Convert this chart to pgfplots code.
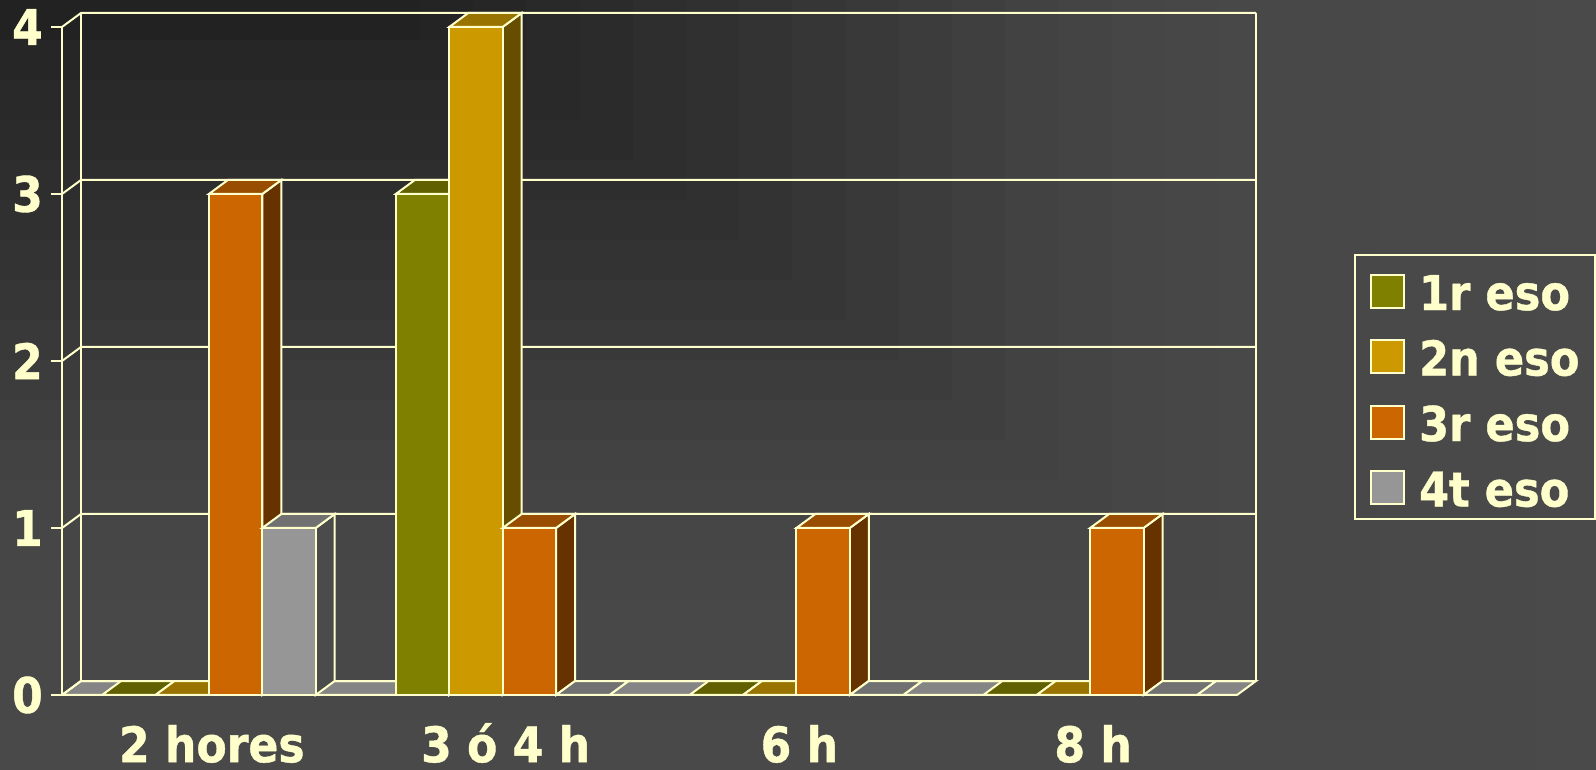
\documentclass[border=0pt]{standalone}
\usepackage{fontspec}
\setmainfont{DejaVu Sans Condensed}[BoldFeatures={FakeBold=0.8}]
\usepackage{pgfplots}
\pgfplotsset{compat=1.18}

\definecolor{cream}{HTML}{FFFFCC}
\definecolor{floorgrey}{HTML}{858585}
\definecolor{sOne}{HTML}{808000}
\definecolor{sOneTop}{HTML}{606000}
\definecolor{sOneSide}{HTML}{404000}
\definecolor{sTwo}{HTML}{CC9900}
\definecolor{sTwoTop}{HTML}{997300}
\definecolor{sTwoSide}{HTML}{664D00}
\definecolor{sThree}{HTML}{CC6600}
\definecolor{sThreeTop}{HTML}{994D00}
\definecolor{sThreeSide}{HTML}{663300}
\definecolor{sFour}{HTML}{969696}
\definecolor{sFourTop}{HTML}{717171}
\definecolor{sFourSide}{HTML}{4B4B4B}

% depth of the box, in axis units
\def\dx{0.0647}
\def\dy{0.0838}
\def\bw{0.1818}

% top and side of one bar: left edge, value, colour name
\newcommand\barfaces[3]{%
  \pgfmathsetmacro\xa{#1+\bw}%
  \pgfmathsetmacro\xb{#1+\bw+\dx}%
  \pgfmathsetmacro\xc{#1+\dx}%
  \pgfmathsetmacro\yt{#2+\dy}%
  \addplot[forget plot,draw=cream,fill=#3Side] coordinates {(\xa,0) (\xb,\dy) (\xb,\yt) (\xa,#2) (\xa,0)} --cycle;
  \addplot[forget plot,draw=cream,fill=#3Top] coordinates {(#1,#2) (\xa,#2) (\xb,\yt) (\xc,\yt) (#1,#2)} --cycle;
}
% one level of the walls: front tick, back corner, back right
\newcommand\wall[1]{%
  \pgfmathsetmacro\yt{#1+\dy}%
  \pgfmathsetmacro\xb{4+\dx}%
  \addplot[forget plot,cream] coordinates {(0,#1) (\dx,\yt) (\xb,\yt)};
}

\pgfplotsset{
  bar3d/.style={ybar,bar width=\bw,draw=cream,
    legend image code/.code={\draw[##1,line width=2pt] (0pt,-19pt) rectangle (33pt,14pt);}},
}

\begin{document}
\begin{tikzpicture}
% background, rectangular gradient out of the top left corner
\fill[black!71] (0pt,0pt) rectangle (1596pt,770pt);
\foreach \t/\g in {900/.290,840/.288,780/.286,720/.284,660/.282,600/.278,560/.273,520/.267,480/.260,440/.248,400/.235,360/.223,320/.212,280/.200,240/.188,200/.179,160/.170,120/.160,80/.150,40/.142}{
  \pgfmathsetmacro\bx{min(1596,420+1.33*\t)}
  \pgfmathsetmacro\by{max(0,770-\t)}
  \fill[color={rgb,1:red,\g;green,\g;blue,\g}] (0pt,770pt) rectangle (\bx pt,\by pt);
}
\fill[color={rgb,1:red,.133;green,.133;blue,.133}] (0pt,770pt) rectangle (420pt,730pt);
\begin{axis}[
  at={(62pt,75pt)},anchor=origin,
  x=293.75pt,y=167pt,
  xmin=0,xmax=4.0647,ymin=0,ymax=4.0838,
  clip=false,
  axis line style={draw=none},
  xtick pos=bottom,ytick pos=left,
  tick align=outside,
  every tick/.style={cream,line width=2pt},
  every minor tick/.style={cream,line width=2pt},
  major tick length=11pt,minor tick length=12pt,
  xtick={0.5,1.5,2.5,3.5},
  xticklabels={2 hores,3 ó 4 h,6 h,8 h},
  x tick style={draw=none},
  minor xtick={0,1,2,3,4},
  ytick={0,1,2,3,4},
  /pgf/number format/assume math mode=true,
  tick label style={cream,font=\fontsize{49}{49}\selectfont\bfseries,inner sep=0pt},
  xticklabel style={text height=36pt,text depth=0pt,anchor=north,yshift=-20pt,xshift=3pt},
  yticklabel style={anchor=east,xshift=-8pt},
  every axis plot/.append style={line width=2pt},
  legend style={at={(1.0821,0.6466)},anchor=north west,draw=cream,line width=2pt,
    fill=none,text=cream,font=\fontsize{48}{48}\selectfont\bfseries,
    inner xsep=15pt,inner ysep=12pt,row sep=22.5pt,column sep=14pt,
    nodes={text height=43pt,text depth=0pt,inner sep=0pt}},
  legend cell align=left,
]
% floor and walls
\addplot[forget plot,draw=cream,fill=floorgrey] coordinates {(0,0) (4,0) (4.0647,0.0838) (0.0647,0.0838) (0,0)} --cycle;
\wall{0}\wall{1}\wall{2}\wall{3}\wall{4}
\addplot[forget plot,cream] coordinates {(0,0) (0,4)};
\addplot[forget plot,cream] coordinates {(0.0647,0.0838) (0.0647,4.0838)};
\addplot[forget plot,cream] coordinates {(4.0647,0.0838) (4.0647,4.0838)};

% 1r eso
\barfaces{0.1364}{0}{sOne}\barfaces{1.1364}{3}{sOne}\barfaces{2.1364}{0}{sOne}\barfaces{3.1364}{0}{sOne}
\addplot[bar3d,bar shift=-0.2727,fill=sOne] coordinates {(0.5,0) (1.5,3) (2.5,0) (3.5,0)};
\addlegendentry{1r eso}
% 2n eso
\barfaces{0.3182}{0}{sTwo}\barfaces{1.3182}{4}{sTwo}\barfaces{2.3182}{0}{sTwo}\barfaces{3.3182}{0}{sTwo}
\addplot[bar3d,bar shift=-0.0909,fill=sTwo] coordinates {(0.5,0) (1.5,4) (2.5,0) (3.5,0)};
\addlegendentry{2n eso}
% 3r eso
\barfaces{0.5}{3}{sThree}\barfaces{1.5}{1}{sThree}\barfaces{2.5}{1}{sThree}\barfaces{3.5}{1}{sThree}
\addplot[bar3d,bar shift=0.0909,fill=sThree] coordinates {(0.5,3) (1.5,1) (2.5,1) (3.5,1)};
\addlegendentry{3r eso}
% 4t eso
\barfaces{0.6818}{1}{sFour}\barfaces{1.6818}{0}{sFour}\barfaces{2.6818}{0}{sFour}\barfaces{3.6818}{0}{sFour}
\addplot[bar3d,bar shift=0.2727,fill=sFour] coordinates {(0.5,1) (1.5,0) (2.5,0) (3.5,0)};
\addlegendentry{4t eso}
\end{axis}
\end{tikzpicture}
\end{document}
